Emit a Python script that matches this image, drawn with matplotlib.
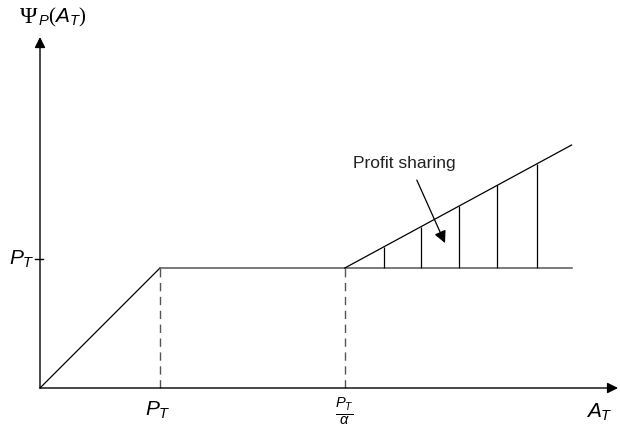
import numpy as np
import matplotlib
matplotlib.use('Agg')
import matplotlib.pyplot as plt

plt.rcParams['font.family'] = ['Liberation Sans', 'DejaVu Sans']
plt.rcParams['mathtext.fontset'] = 'custom'
plt.rcParams['mathtext.rm'] = 'Liberation Serif'
plt.rcParams['mathtext.it'] = 'Liberation Sans:italic'
plt.rcParams['mathtext.bf'] = 'Liberation Sans:bold'

# payoff pieces, in units of P_T
base_x = [0, 1.0, 2.54]
base_y = [0, 1.0, 1.0]
floor_x = [2.54, 4.43]
floor_y = [1.0, 1.0]
share_x = [2.54, 4.43]
share_y = [1.0, 2.025]
hatch_x = [2.87, 3.175, 3.49, 3.81, 4.14]
drop_x = [1.0, 2.54]
tick_y = 1.075

fig = plt.figure(figsize=(6.2, 4.29), dpi=100)
ax = fig.add_axes([0, 0, 1, 1])
ax.set_xlim(-40 / 120, 580 / 120)
ax.set_ylim(-41 / 120, 388 / 120)
ax.axis('off')

arr = dict(arrowstyle='-|>', mutation_scale=16, color='black', lw=1, shrinkA=0, shrinkB=0)
ax.annotate('', xy=(4.817, 0), xytext=(0, 0), arrowprops=arr)
ax.annotate('', xy=(0, 2.925), xytext=(0, 0), arrowprops=arr)

# kinked payoff
ax.plot(base_x[:2], base_y[:2], color='black', lw=0.9)
ax.plot(base_x[1:], base_y[1:], color='#555555', lw=1.1)
ax.plot(floor_x, floor_y, color='#555555', lw=1.1)
ax.plot(share_x, share_y, color='black', lw=0.9)

for x in drop_x:
    ax.plot([x, x], [0, 1.0], color='#555555', lw=1.0, ls=(0, (6, 4)))

hatch_top = np.interp(hatch_x, share_x, share_y)
ax.vlines(hatch_x, 1.0, hatch_top, color='black', lw=0.9)

ax.plot([-0.04, 0.025], [tick_y, tick_y], color='black', lw=1)
ax.text(-0.045, tick_y, r'$\mathit{P_T}$', ha='right', va='center', fontsize=15)

ax.text(0.985, -0.19, r'$\mathit{P_T}$', ha='center', va='center', fontsize=15)
ax.text(2.54, -0.2, r'$\frac{\mathit{P_T}}{\alpha}$', ha='center', va='center', fontsize=15)
ax.text(4.66, -0.205, r'$\mathit{A_T}$', ha='center', va='center', fontsize=15)
# y-axis title: big serif Psi then italic P(A_T)
ax.text(-0.17, 3.09, 'Ψ', ha='left', va='center', fontsize=17, family='Liberation Serif')
ax.text(-0.02, 3.085, r'$\mathit{_P(A_T)}$', ha='left', va='center', fontsize=15)

ax.text(3.033, 1.87, 'Profit sharing', ha='center', va='center', fontsize=12.5, color='#222222')
ax.annotate('', xy=(3.375, 1.208), xytext=(3.14, 1.733),
            arrowprops=dict(arrowstyle='-|>', mutation_scale=18, color='black', lw=0.9,
                            shrinkA=0, shrinkB=0))

fig.savefig('out.png', dpi=100)
